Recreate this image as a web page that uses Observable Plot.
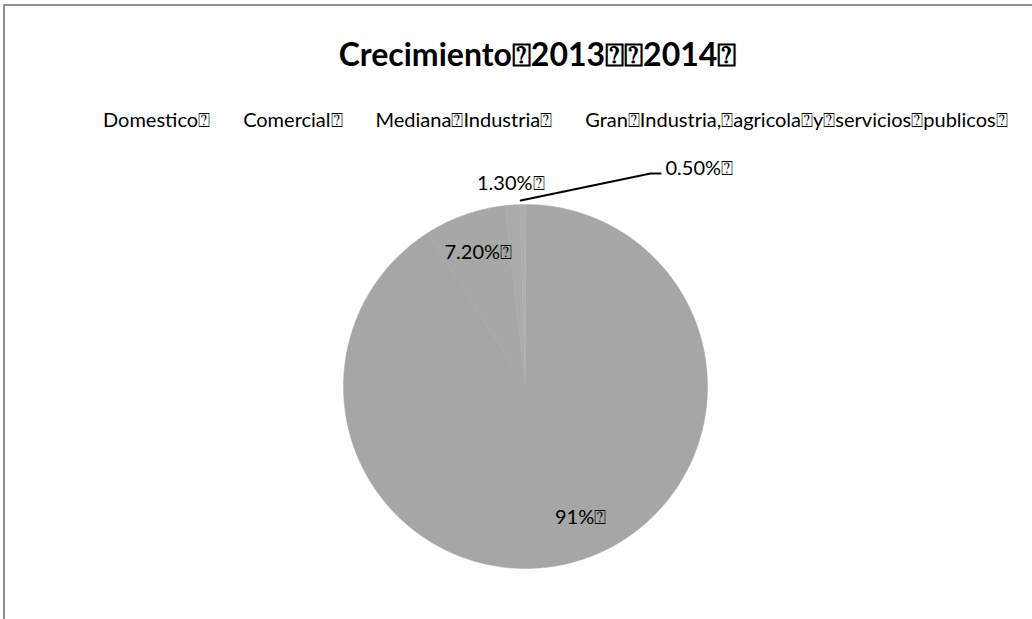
<!DOCTYPE html>
<html><head><meta charset="utf-8">
<script src="https://cdn.jsdelivr.net/npm/d3@7"></script>
<script src="https://cdn.jsdelivr.net/npm/@observablehq/plot@0.6"></script>
<style>
body{margin:0;background:#fff;}
#wrap{position:relative;width:1032px;height:619px;overflow:hidden;font-family:Lato,"Noto Sans",sans-serif;color:#000;}
#frame{position:absolute;left:3px;top:4px;width:1100px;height:700px;border-top:2px solid #8f8f8f;border-left:2px solid #8f8f8f;}
#title{position:absolute;top:34px;left:0;width:1075px;text-align:center;font-weight:bold;font-size:32px;line-height:40px;}
#legend{position:absolute;top:107px;left:103px;display:flex;gap:33px;font-size:20px;line-height:24px;white-space:nowrap;}
#chart{position:absolute;left:0;top:140px;}
</style></head>
<body>
<div id="wrap">
  <div id="frame"></div>
  <div id="title"></div>
  <div id="legend"></div>
  <div id="chart"></div>
</div>
<script>
const BOX = "\u2370";
const title = "Crecimiento" + BOX + "2013" + BOX + BOX + "2014" + BOX;
const categories = ["Domestico", "Comercial", "Mediana Industria", "Gran Industria, agricola y servicios publicos"];
const values = [91, 7.2, 1.3, 0.5];
const labels = ["91%", "7.20%", "1.30%", "0.50%"];
const colors = ["#a6a6a6", "#a7a7a7", "#ababab", "#aeaeae"];

const t = s => s.replace(/ /g, BOX) + BOX;
document.getElementById("title").textContent = title;
const leg = document.getElementById("legend");
categories.forEach(c => { const s = document.createElement("span"); s.textContent = t(c); leg.appendChild(s); });

// pie geometry in radius units
const R = 182, CX = 525, CY = 246, W = 1032, H = 479;
const total = d3.sum(values);
let acc = 0;
const slices = values.map((v, i) => {
  const a0 = acc / total * 2 * Math.PI; acc += v;
  const a1 = acc / total * 2 * Math.PI;
  return {i, cat: categories[i], a0, a1, mid: (a0 + a1) / 2};
});
const slicePts = s => {
  const pts = [{x: 0, y: 0}];
  const n = Math.max(2, Math.ceil((s.a1 - s.a0) / (Math.PI / 360)));
  for (let k = 0; k <= n; k++) { const a = s.a0 + (s.a1 - s.a0) * k / n; pts.push({x: Math.sin(a), y: Math.cos(a)}); }
  pts.push({x: 0, y: 0});
  return pts;
};
const labelR = [0.75, 0.78, 1.12, null];
const labelDx = [17, 0, 0, 0];
const inner = slices.filter(s => labelR[s.i] != null).map(s => ({
  x: labelR[s.i] * Math.sin(s.mid), y: labelR[s.i] * Math.cos(s.mid), text: labels[s.i] + BOX, dx: labelDx[s.i]
}));
const gs = slices[3];
const leaderStart = {x: 1.02 * Math.sin(gs.mid) - 0.01, y: 1.022};
const bend = {x: 0.687, y: 1.170}, lend = {x: 0.742, y: 1.170};
const outer = [{x: 0.769, y: 1.196, text: labels[3] + BOX}];

const marks = [];
slices.forEach(s => marks.push(Plot.line(slicePts(s), {x: "x", y: "y", fill: colors[s.i], stroke: colors[s.i], strokeWidth: 0.5, curve: "linear"})));
inner.forEach(d => marks.push(Plot.text([d], {x: "x", y: "y", text: "text", dx: d.dx, fontSize: 20, fill: "#000", textAnchor: "middle", lineAnchor: "middle"})));
marks.push(Plot.line([leaderStart, bend, lend], {x: "x", y: "y", stroke: "#000", strokeWidth: 2}));
marks.push(Plot.text(outer, {x: "x", y: "y", text: "text", fontSize: 20, fill: "#000", textAnchor: "start", lineAnchor: "middle"}));

const chart = Plot.plot({
  width: W, height: H, margin: 0,
  style: {fontFamily: 'Lato, "Noto Sans", sans-serif', background: "transparent"},
  x: {axis: null, domain: [-CX / R, (W - CX) / R]},
  y: {axis: null, domain: [-(H - CY) / R, CY / R]},
  marks
});
document.getElementById("chart").appendChild(chart);
</script>
</body></html>
